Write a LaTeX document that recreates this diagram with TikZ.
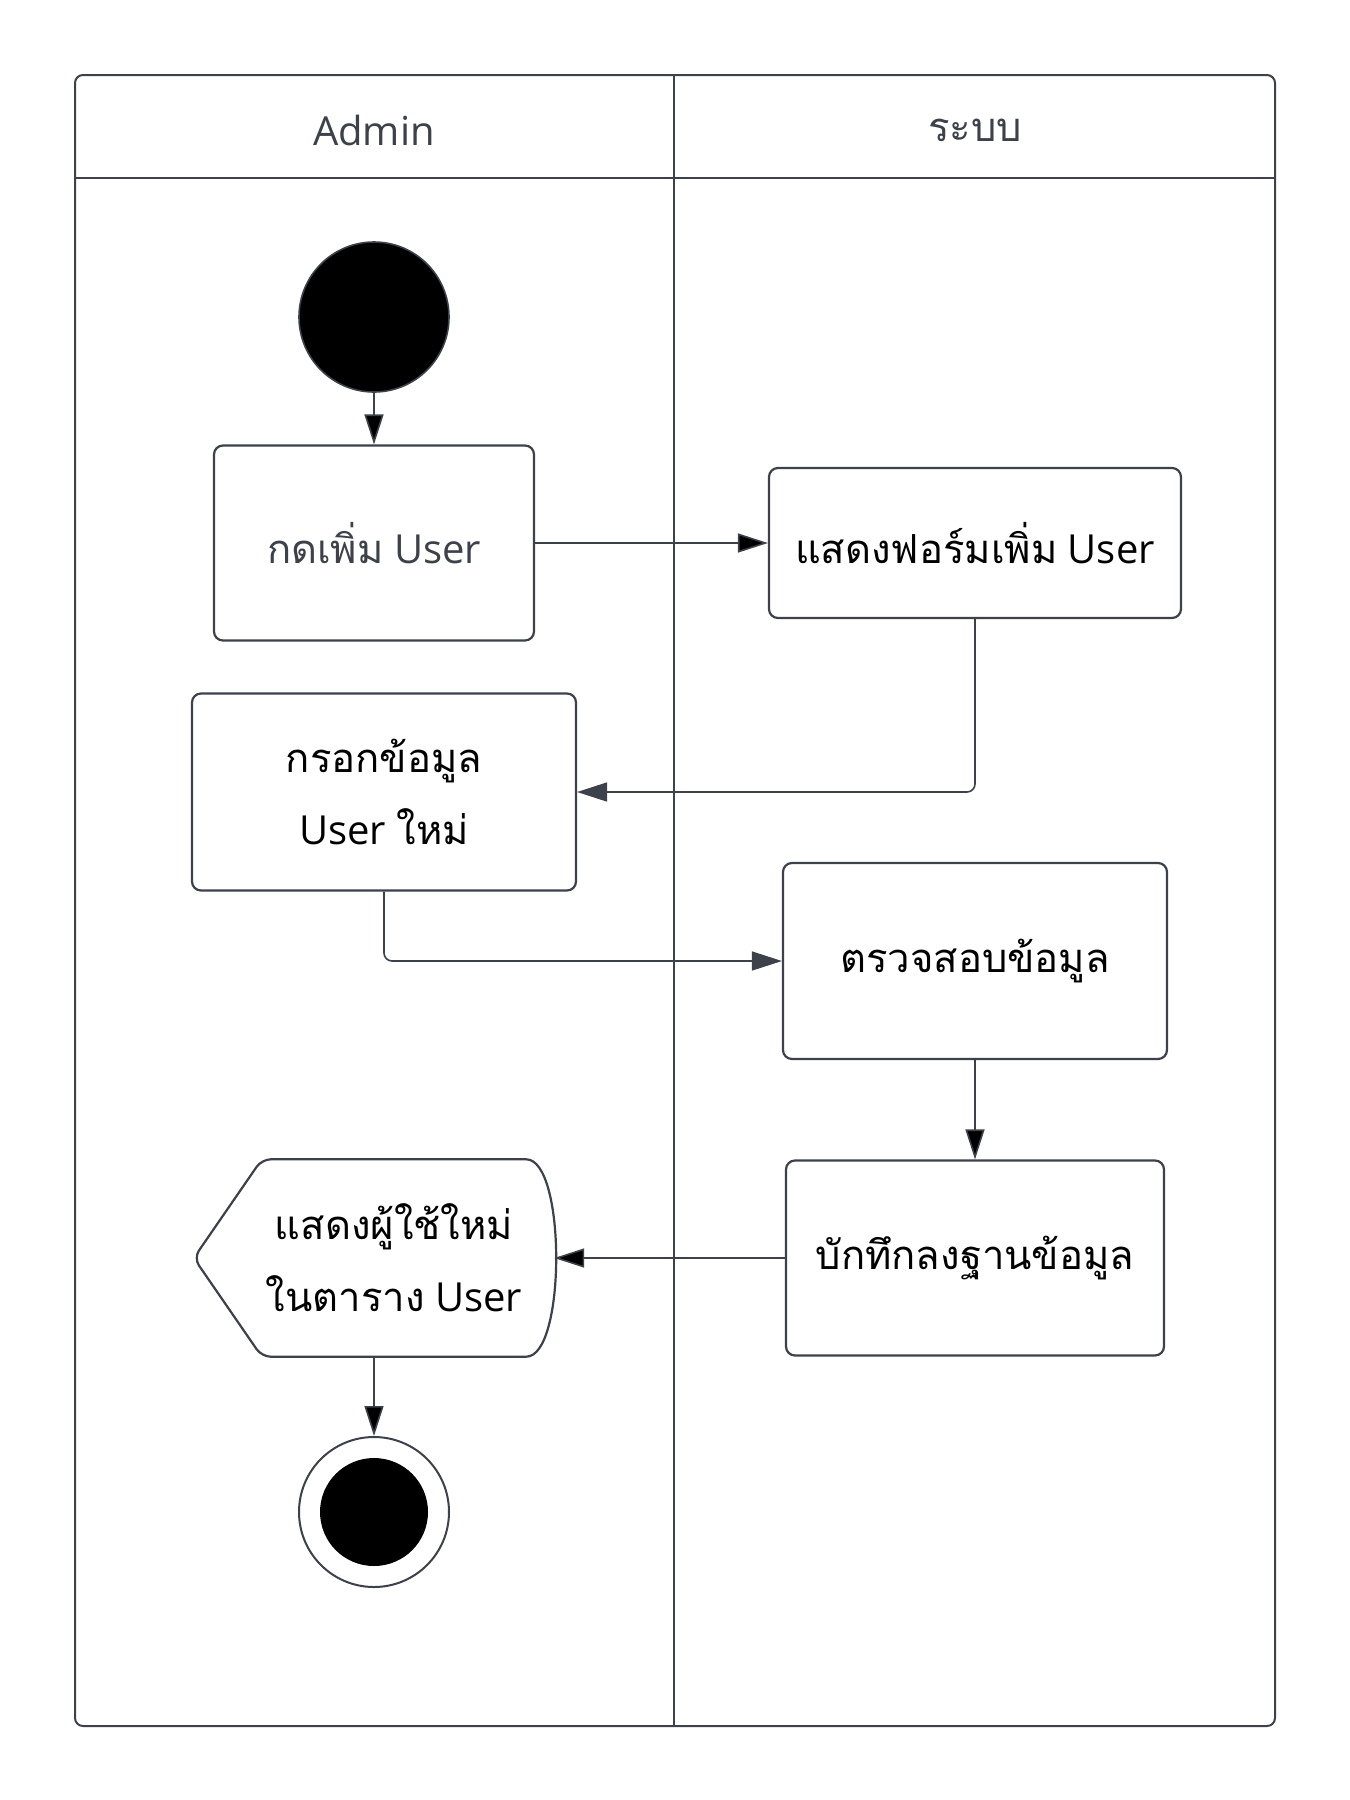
\documentclass[tikz,border=0pt]{standalone}
\usepackage{fontspec}
\setmainfont{Open Sans}
\newfontfamily\thai[Script=Thai]{Loma}
\usetikzlibrary{arrows.meta,positioning}

\definecolor{linegray}{HTML}{3C414A}
\definecolor{textgray}{HTML}{3C414A}

\begin{document}
\begin{tikzpicture}[
    x=1pt,
    y=-1pt,
    >={Triangle[length=30pt,width=19pt]},
    font=\fontsize{40}{72}\selectfont,
    text centered,
    lane/.style={draw=linegray, line width=2pt},
    title/.style={text=textgray, inner sep=0},
    action/.style={
      draw=linegray,
      line width=2.2pt,
      rounded corners=9pt,
      align=center,
      inner sep=0,
      text=black
    },
    flow/.style={->, draw=linegray, line width=1.6pt}
    ]

    \useasboundingbox (0,0) rectangle (1350,1800);

    % swimlanes
    \draw[lane, rounded corners=8pt] (75,75) rectangle (1275,1726);
    \draw[lane] (75,178) -- (1275,178);
    \draw[lane] (674,75) -- (674,1726);

    \node (Ta) [title] at (374,130) {Admin};
    \node (Tb) [title] at (975,130) {\thai ระบบ};

    \node (S) [circle, draw=linegray, line width=1.6pt, fill=black, minimum size=150pt, inner sep=0] at (374,317) {};

    \node (A) [action, minimum width=320pt, minimum height=195pt, text=textgray] at (374,543) {{\thai กดเพิ่ม} User};
    \node (B) [action, minimum width=412pt, minimum height=150pt] at (975,543) {{\thai แสดงฟอร์มเพิ่ม} User};
    \node (C) [action, minimum width=384pt, minimum height=197pt] at (384,792) {{\thai กรอกข้อมูล}\\User {\thai ใหม่}};
    \node (D) [action, minimum width=384pt, minimum height=196pt] at (975,961) {\thai ตรวจสอบข้อมูล};
    \node (E) [action, minimum width=378pt, minimum height=195pt] at (975,1258) {\thai บักทึกลงฐานข้อมูล};

    % output shape
    \node (F) [minimum width=360pt, minimum height=197pt, inner sep=0] at (374,1258) {};
    \draw[action] (F.west) -- ([xshift=68pt]F.north west) -- ([xshift=-37pt]F.north east)
      .. controls ([xshift=12pt]F.north east) and ([xshift=12pt]F.south east) .. ([xshift=-37pt]F.south east)
      -- ([xshift=68pt]F.south west) -- cycle;
    \node (f) at ([xshift=20pt]F.center) [align=center, inner sep=0] {{\thai แสดงผู้ใช้ใหม่}\\{\thai ในตาราง} User};

    \node (G) [circle, draw=linegray, line width=2pt, fill=white, minimum size=150pt, inner sep=0] at (374,1512) {};
    \node at (G.center) [circle] (g) [fill=black, minimum size=108pt, inner sep=0] {};

    \path[flow] (S) edge node {} (A);
    \path[flow] (A) edge node {} (B);
    \draw[flow, rounded corners=8pt] (B.south) |- (C.east);
    \draw[flow, rounded corners=8pt] (C.south) |- (D.west);
    \path[flow] (D) edge node {} (E);
    \path[flow] (E) edge node {} (F.east);
    \path[flow] (F) edge node {} (G);

\end{tikzpicture}
\end{document}
